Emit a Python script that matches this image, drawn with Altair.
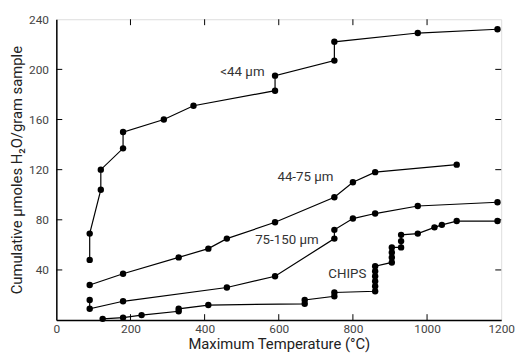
import altair as alt
import pandas as pd

# ---- data ----
lt44_x = [90, 90, 120, 120, 180, 180, 290, 370, 590, 590, 750, 750, 975, 1190]
lt44_y = [48, 69, 104, 120, 137, 150, 160, 171, 183, 195, 207, 222, 229, 232]

s44_75_x = [90, 180, 330, 410, 460, 590, 750, 800, 860, 1080]
s44_75_y = [28, 37, 50, 57, 65, 78, 98, 110, 118, 124]

s75_150_x = [90, 90, 180, 460, 590, 750, 750, 800, 860, 975, 1190]
s75_150_y = [16, 9, 15, 26, 35, 65, 72, 81, 85, 91, 94]

chips_x = [125, 180, 230, 330, 330, 410, 670, 670, 750, 750,
           860, 860, 860, 860, 860, 860, 905, 905, 905, 905,
           930, 930, 930, 975, 1020, 1040, 1080, 1190]
chips_y = [1, 2, 4, 7, 9, 12, 13, 16, 19, 22,
           23, 27, 31, 35, 39, 43, 46, 50, 54, 58,
           58, 63, 68, 69, 74, 76, 79, 79]

label_text = ["<44 µm", "44-75 µm", "75-150 µm", "CHIPS"]
label_x = [502, 672, 622, 785]
label_y = [198, 114, 64, 37]

x_label_values = [0, 200, 400, 600, 800, 1000, 1200]
y_label_values = [40, 80, 120, 160, 200, 240]
x_tick_values = [200, 400, 600, 800, 1000]
y_tick_values = [40, 80, 120, 160, 200]

rows = []
for name, xs, ys in [("<44", lt44_x, lt44_y), ("44-75", s44_75_x, s44_75_y),
                     ("75-150", s75_150_x, s75_150_y), ("chips", chips_x, chips_y)]:
    for i, (a, b) in enumerate(zip(xs, ys)):
        rows.append({"series": name, "order": i, "x": a, "y": b})
df = pd.DataFrame(rows)

FONT = "Roboto"
W, H = 451, 305

xscale = alt.Scale(domain=[0, 1200], nice=False, zero=False)
yscale = alt.Scale(domain=[0, 240], nice=False, zero=False)

xaxis = alt.Axis(values=x_label_values, format="d", ticks=False, grid=False,
                 domainColor="black", domainWidth=1.5, labelFont=FONT, labelFontSize=12,
                 labelColor="#444", labelPadding=4, labelFlush=False,
                 title="Maximum Temperature (°C)", titleFont=FONT, titleFontSize=15,
                 titleFontWeight="normal", titleColor="#222",
                 titleY=29, titleBaseline="alphabetic")
yaxis = alt.Axis(values=y_label_values, format="d", ticks=False, grid=False,
                 domainColor="black", domainWidth=1.5, labelFont=FONT, labelFontSize=12,
                 labelColor="#444", labelPadding=8, labelFlush=False,
                 title="Cumulative µmoles H₂O/gram sample",
                 titleFont=FONT, titleFontSize=15, titleFontWeight="normal",
                 titleColor="#222", titleX=-40, titleY=H / 2, titleAngle=-90,
                 titleAlign="center", titleBaseline="middle")

base = alt.Chart(df)
lines = base.mark_line(color="black", strokeWidth=1.2).encode(
    x=alt.X("x:Q", scale=xscale, axis=xaxis),
    y=alt.Y("y:Q", scale=yscale, axis=yaxis),
    detail="series:N",
    order="order:Q",
)
points = base.mark_circle(color="black", size=42, opacity=1).encode(
    x=alt.X("x:Q", scale=xscale),
    y=alt.Y("y:Q", scale=yscale),
)

lab_df = pd.DataFrame({"t": label_text, "x": label_x, "y": label_y})
labels = alt.Chart(lab_df).mark_text(font=FONT, fontSize=13.5, color="#333").encode(
    x=alt.X("x:Q", scale=xscale), y=alt.Y("y:Q", scale=yscale), text="t:N")

xt = pd.DataFrame({"v": x_tick_values})
yt = pd.DataFrame({"v": y_tick_values})
tick_bottom = alt.Chart(xt).mark_rule(color="black", strokeWidth=1).encode(
    x=alt.X("v:Q", scale=xscale), y=alt.value(H), y2=alt.value(H - 6))
tick_top = alt.Chart(xt).mark_rule(color="black", strokeWidth=1).encode(
    x=alt.X("v:Q", scale=xscale), y=alt.value(0), y2=alt.value(6))
tick_left = alt.Chart(yt).mark_rule(color="black", strokeWidth=1).encode(
    y=alt.Y("v:Q", scale=yscale), x=alt.value(0), x2=alt.value(6))
tick_right = alt.Chart(yt).mark_rule(color="black", strokeWidth=1).encode(
    y=alt.Y("v:Q", scale=yscale), x=alt.value(W), x2=alt.value(W - 6))

chart = alt.layer(lines, points, labels, tick_bottom, tick_top, tick_left, tick_right).properties(
    width=W, height=H,
    autosize=alt.AutoSizeParams(type="none"),
    padding={"left": 49, "top": 9, "right": 14, "bottom": 34},
).configure_view(stroke="black", strokeWidth=1.5).configure(background="white")

chart.save("out.html", embed_options={"renderer": "svg", "actions": False})
